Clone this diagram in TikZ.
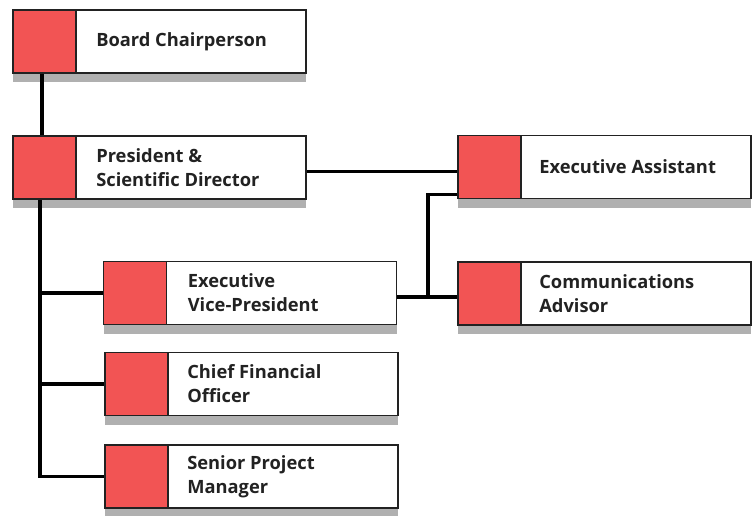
\documentclass[tikz,border=0pt]{standalone}
\usepackage{fontspec}
\setmainfont{Open Sans}
\usetikzlibrary{shadows,calc}
\definecolor{boxred}{RGB}{242,84,84}
\definecolor{shade}{RGB}{176,176,176}
\definecolor{ink}{RGB}{34,34,34}
\begin{document}
\begin{tikzpicture}[x=1pt,y=-1pt,
  orgbox/.style={draw=ink, line width=1.8pt, fill=white, minimum width=293pt, minimum height=63pt, inner sep=0pt,
    path picture={\fill[boxred] (path picture bounding box.south west) rectangle ([xshift=63pt]path picture bounding box.north west);
      \draw[ink, line width=1.8pt] ([xshift=63pt]path picture bounding box.south west) -- ([xshift=63pt]path picture bounding box.north west);},
    drop shadow={shadow xshift=0pt, shadow yshift=-9pt, fill=shade, opacity=1}},
  orgtext/.style={anchor=west, align=left, font=\fontsize{18.3}{24}\selectfont\bfseries, text=ink, inner sep=0pt},
  conn/.style={line width=3.3pt, draw=black}]
\useasboundingbox (0,0) rectangle (752,516);
% boxes
\node[orgbox] (bc) at (159.5,41.5) {};
\node[orgbox] (pr) at (159.5,167.5) {};
\node[orgbox] (ea) at (604.5,167) {};
\node[orgbox] (ca) at (604.5,293.5) {};
\node[orgbox] (evp) at (250,293) {};
\node[orgbox] (cfo) at (251.5,384) {};
\node[orgbox] (spm) at (251.5,476.5) {};
% connectors
\coordinate (t0) at ($(pr.south west)+(28,0)$);
\coordinate (evpo) at ([yshift=-4pt]evp.east);
\coordinate (pro) at ([yshift=-4pt]pr.east);
\coordinate (j) at (428,0);
\draw[conn] ($(bc.south west)+(30,0)$) -- ($(pr.north west)+(30,0)$);
\draw[conn] (t0) |- (spm.west);
\draw[conn] (t0 |- evp.west) -- (evp.west);
\draw[conn] (t0 |- cfo.west) -- (cfo.west);
\draw[conn] (pro) -- (pro -| ea.west);
\draw[conn] (evpo) -- (evpo -| ca.west);
\draw[conn] (j |- evpo) |- ([yshift=5pt]ea.south west);
% texts
\node[orgtext] (bct) at ($(bc.west)+(84,0)$) {Board Chairperson};
\node[orgtext] (prt) at ($(pr.west)+(84,0)$) {President \&\\Scientific Director};
\node[orgtext] (eat) at ($(ea.west)+(82,0)$) {Executive Assistant};
\node[orgtext] (cat) at ($(ca.west)+(82,0)$) {Communications\\Advisor};
\node[orgtext] (evpt) at ($(evp.west)+(85,0)$) {Executive\\Vice-President};
\node[orgtext] (cfot) at ($(cfo.west)+(83,0)$) {Chief Financial\\Officer};
\node[orgtext] (spmt) at ($(spm.west)+(83,0)$) {Senior Project\\Manager};
\end{tikzpicture}
\end{document}
